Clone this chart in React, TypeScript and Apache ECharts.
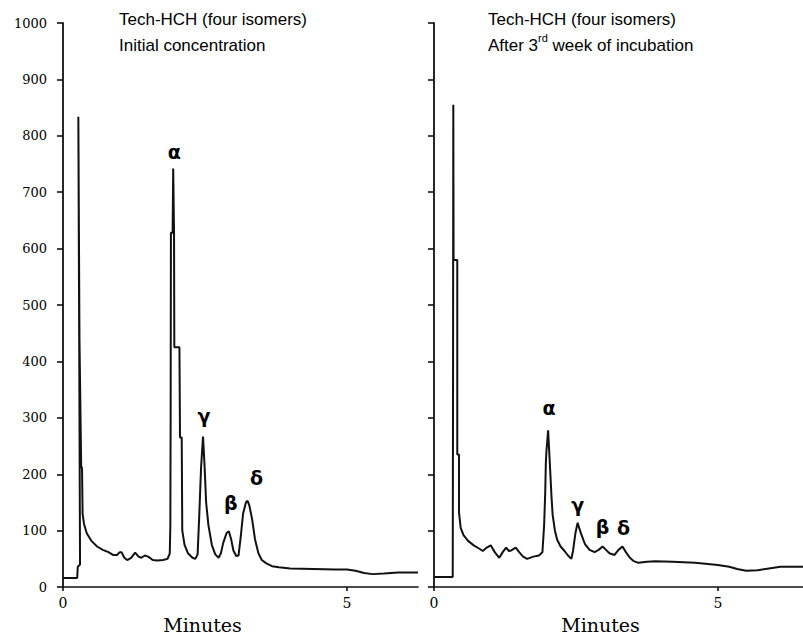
import React, { useEffect, useRef } from "react";
import * as echarts from "echarts";

// ---- Data ----
const leftTime = [
  0, 0.25, 0.26, 0.3, 0.3, 0.285, 0.27, 0.29, 0.3, 0.32, 0.335, 0.345, 0.37, 0.42, 0.5, 0.6, 0.7, 0.8, 0.88, 0.95,
  1.0, 1.03, 1.08, 1.13, 1.2, 1.27, 1.33, 1.38, 1.44, 1.5, 1.58, 1.66, 1.76, 1.84, 1.88, 1.89, 1.895, 1.9, 1.93,
  1.94, 1.955, 1.96, 2.05, 2.06, 2.09, 2.1, 2.14, 2.2, 2.28, 2.33, 2.37, 2.4, 2.43, 2.465, 2.49, 2.52, 2.56, 2.62,
  2.68, 2.74, 2.78, 2.82, 2.88, 2.92, 2.96, 3.0, 3.05, 3.09, 3.13, 3.17, 3.22, 3.25, 3.28, 3.33, 3.38, 3.44, 3.5,
  3.58, 3.68, 3.8, 4.0, 4.4, 4.8, 5.0, 5.15, 5.3, 5.45, 5.65, 5.9, 6.25,
];
const leftSignal = [
  16, 16, 36, 40, 40, 440, 834, 440, 440, 215, 210, 130, 112, 95, 82, 72, 66, 62, 57, 57,
  62, 62, 52, 48, 52, 61, 54, 52, 56, 54, 48, 47, 48, 50, 60, 110, 300, 628, 628,
  742, 628, 425, 425, 265, 265, 100, 75, 60, 52, 50, 58, 130, 210, 267, 220, 150, 110, 75,
  58, 52, 60, 78, 96, 99, 85, 65, 55, 56, 90, 130, 150, 153, 145, 120, 85, 60, 48,
  42, 37, 35, 33, 32, 31, 31, 29, 25, 23, 24, 26, 26,
];

const rightTime = [
  0, 0.33, 0.335, 0.335, 0.34, 0.345, 0.41, 0.41, 0.44, 0.44, 0.47, 0.52, 0.6, 0.7, 0.8, 0.86, 0.93, 1.0, 1.07,
  1.15, 1.21, 1.27, 1.32, 1.36, 1.44, 1.5, 1.57, 1.64, 1.75, 1.85, 1.91, 1.94, 1.96, 1.97, 1.98, 2.01, 2.03, 2.05,
  2.07, 2.09, 2.13, 2.17, 2.23, 2.3, 2.36, 2.42, 2.45, 2.49, 2.53, 2.56, 2.6, 2.66, 2.74, 2.83, 2.9, 2.97, 3.03,
  3.09, 3.18, 3.25, 3.32, 3.38, 3.45, 3.52, 3.6, 3.75, 3.9, 4.2, 4.6, 5.0, 5.2, 5.34, 5.5, 5.7, 5.9, 6.1, 6.5,
];
const rightSignal = [
  18, 18, 18, 326, 855, 580, 580, 235, 235, 133, 105, 92, 82, 74, 68, 64, 70, 74, 62,
  52, 62, 70, 64, 65, 70, 62, 54, 50, 54, 56, 62, 110, 170, 220, 240, 278, 240, 200,
  160, 128, 100, 84, 72, 64, 56, 50, 65, 95, 114, 104, 92, 76, 66, 62, 66, 72, 66,
  60, 57, 66, 72, 62, 52, 46, 43, 45, 46, 45, 43, 39, 36, 32, 29, 30, 33, 36, 36,
];

// Isomer peak labels (retention times; heights looked up from the traces)
const leftPeakNames = ["α", "γ", "β", "δ"];
const leftPeakTimes = [1.94, 2.465, 2.92, 3.25];
const rightPeakNames = ["α", "γ", "β", "δ"];
const rightPeakTimes = [2.01, 2.53, 2.97, 3.32];

// Label nudges (style only)
const leftPeakOffsets = [[1, -7], [1, -10], [2, -18], [9, -13]];
const rightPeakOffsets = [[1, -12], [0, -8], [0, -9], [1, -8]];

const xTickValues = [0, 5];
const yMin = 0;
const yMax = 1000;
const yStep = 100;

const titleLine1 = "Tech-HCH (four isomers)";
const leftTitleLine2 = "Initial concentration";
const xName = "Minutes";

function pairs(t: number[], v: number[]) {
  return t.map((x, i) => [x, v[i]]);
}

function peakMarks(names: string[], times: number[], t: number[], v: number[], offs: number[][]) {
  return names.map((n, i) => {
    let best = 0;
    let bestVal = -Infinity;
    t.forEach((x, j) => {
      if (Math.abs(x - times[i]) < 1e-6 && v[j] > bestVal) {
        bestVal = v[j];
        best = j;
      }
    });
    return {
      name: n,
      coord: [t[best], v[best]],
      label: { offset: offs[i] },
    };
  });
}

export default function App() {
  const ref = useRef<HTMLDivElement>(null);

  useEffect(() => {
    if (!ref.current) return;
    const chart = echarts.init(ref.current, null, { renderer: "svg" });

    const black = "#111";
    const serif = "DejaVu Serif";
    const sans = "Liberation Sans";

    const axisCommonX = (gridIndex: number, max: number, padRight: number) => ({
      type: "value",
      gridIndex,
      min: 0,
      max,
      splitLine: { show: false },
      axisLine: { show: true, lineStyle: { color: black, width: 1.6 } },
      axisTick: { show: true, length: 4, customValues: xTickValues, lineStyle: { color: black, width: 1.6 } },
      axisLabel: {
        show: true,
        customValues: xTickValues,
        formatter: (v: number) => String(v),
        color: "#000",
        fontFamily: serif,
        fontSize: 14,
        margin: 9,
      },
      name: xName,
      nameLocation: "middle",
      nameGap: 24,
      nameTextStyle: { fontFamily: serif, fontSize: 19, color: "#000", padding: [0, padRight, 0, 0] },
    });

    const axisCommonY = (gridIndex: number, showLabels: boolean) => ({
      type: "value",
      gridIndex,
      min: yMin,
      max: yMax,
      interval: yStep,
      splitLine: { show: false },
      axisLine: { show: true, lineStyle: { color: black, width: 1.8 } },
      axisTick: { show: true, length: 6, lineStyle: { color: black, width: 1.6 } },
      axisLabel: {
        show: showLabels,
        formatter: (v: number) => String(v),
        color: "#000",
        fontFamily: serif,
        fontSize: 13,
        margin: 16,
      },
    });

    const markLabel = {
      show: true,
      position: "top",
      distance: 0,
      formatter: (p: any) => p.name,
      fontFamily: "DejaVu Sans",
      fontWeight: "bold",
      fontSize: 19,
      color: "#000",
    };

    chart.setOption({
      animation: false,
      backgroundColor: "#fff",
      title: [
        {
          left: 114,
          top: 1,
          text: titleLine1 + "\n" + leftTitleLine2,
          textStyle: { fontFamily: sans, fontSize: 17, fontWeight: "normal", color: "#000", lineHeight: 26 },
        },
        {
          left: 483,
          top: 1,
          text: titleLine1 + "\nAfter 3{sup|rd} week of incubation",
          textStyle: {
            fontFamily: sans,
            fontSize: 17,
            fontWeight: "normal",
            color: "#000",
            lineHeight: 26,
            rich: {
              sup: { fontFamily: sans, fontSize: 11, lineHeight: 18, verticalAlign: "top", color: "#000" },
            },
          },
        },
      ],
      grid: [
        { left: 63, top: 23, width: 355, height: 573 },
        { left: 434, top: 23, width: 369, height: 573 },
      ],
      xAxis: [axisCommonX(0, 6.25, 76), axisCommonX(1, 6.5, 36)],
      yAxis: [axisCommonY(0, true), axisCommonY(1, false)],
      series: [
        {
          type: "line",
          xAxisIndex: 0,
          yAxisIndex: 0,
          data: pairs(leftTime, leftSignal),
          showSymbol: false,
          lineStyle: { color: black, width: 2 },
          markPoint: {
            symbol: "circle",
            symbolSize: 1,
            itemStyle: { color: "rgba(0,0,0,0)" },
            label: markLabel,
            data: peakMarks(leftPeakNames, leftPeakTimes, leftTime, leftSignal, leftPeakOffsets),
          },
        },
        {
          type: "line",
          xAxisIndex: 1,
          yAxisIndex: 1,
          data: pairs(rightTime, rightSignal),
          showSymbol: false,
          lineStyle: { color: black, width: 2 },
          markPoint: {
            symbol: "circle",
            symbolSize: 1,
            itemStyle: { color: "rgba(0,0,0,0)" },
            label: markLabel,
            data: peakMarks(rightPeakNames, rightPeakTimes, rightTime, rightSignal, rightPeakOffsets),
          },
        },
      ],
    });

    return () => chart.dispose();
  }, []);

  return (
    <div
      ref={ref}
      style={{ position: "fixed", left: 0, top: 0, width: 803, height: 639, background: "#fff" }}
    />
  );
}
